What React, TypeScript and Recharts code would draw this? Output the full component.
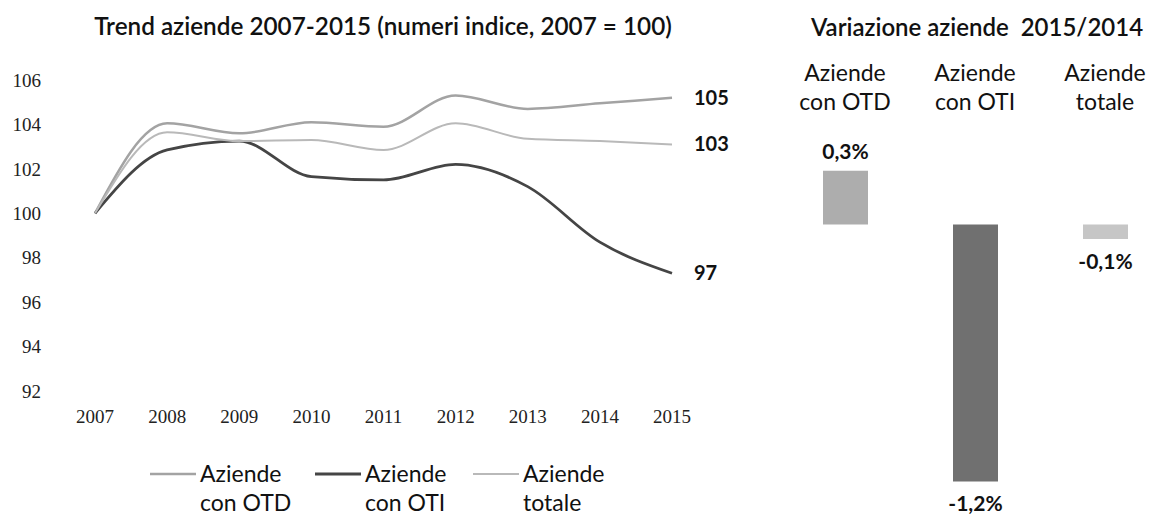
import { LineChart, Line, XAxis, YAxis, BarChart, Bar, Cell, LabelList, ReferenceLine } from 'recharts'

const years = ['2007', '2008', '2009', '2010', '2011', '2012', '2013', '2014', '2015']
const otd = [100, 104.05, 103.6, 104.1, 103.9, 105.3, 104.7, 104.95, 105.2]
const oti = [100, 102.85, 103.25, 101.65, 101.5, 102.2, 101.2, 98.7, 97.3]
const totale = [100, 103.65, 103.25, 103.3, 102.85, 104.05, 103.35, 103.25, 103.1]
const yTicks = [92, 94, 96, 98, 100, 102, 104, 106]

const varCategories = ['Aziende con OTD', 'Aziende con OTI', 'Aziende totale']
const varValues = [0.26, -1.24, -0.07]
const varLabels = ['0,3%', '-1,2%', '-0,1%']
const headerTop = ['Aziende', 'Aziende', 'Aziende']
const headerBottom = ['con OTD', 'con OTI', 'totale']

const trendData = years.map((y, i) => ({ year: y, otd: otd[i], oti: oti[i], totale: totale[i] }))
const varData = varCategories.map((c, i) => ({ name: c, value: varValues[i] }))

const sans = 'Lato, "Open Sans", sans-serif'
const serif = '"Liberation Serif", serif'

const series = [
  { key: 'otd', color: '#a3a3a3', width: 2.5, label: ['Aziende', 'con OTD'] },
  { key: 'oti', color: '#454545', width: 2.8, label: ['Aziende', 'con OTI'] },
  { key: 'totale', color: '#b9b9b9', width: 2, label: ['Aziende', 'totale'] },
]
const barColors = ['#adadad', '#707070', '#c6c6c6']

const EndLabel = (props: any) => {
  const { x, y, index, value } = props
  if (index !== years.length - 1) return <g />
  return (
    <text x={x + 22} y={y} dy={7} fontFamily={sans} fontWeight={700} fontSize={20} fill="#111">
      {Math.round(value)}
    </text>
  )
}

const BarLabel = (props: any) => {
  const { x, y, width, height, index } = props
  const top = Math.min(y, y + height)
  const bottom = Math.max(y, y + height)
  const ty = varValues[index] >= 0 ? top - 20 : bottom + 21
  return (
    <text x={x + width / 2} y={ty} textAnchor="middle" dominantBaseline="central"
      fontFamily={sans} fontWeight={700} fontSize={21} fill="#111">
      {varLabels[index]}
    </text>
  )
}

export default function App() {
  return (
    <div style={{ position: 'absolute', left: 0, top: 0, width: 1151, height: 517, overflow: 'hidden', background: '#fff', fontFamily: sans }}>
      <div style={{ position: 'absolute', left: 0, width: 766, top: 11, textAlign: 'center', fontSize: 24.3, fontWeight: 600, color: '#111' }}>
        Trend aziende 2007-2015 (numeri indice, 2007 = 100)
      </div>

      <div style={{ position: 'absolute', left: 0, top: 0 }}>
        <LineChart width={760} height={440} data={trendData} margin={{ top: 80, right: 88, left: 0, bottom: 9 }}>
          <XAxis
            dataKey="year"
            axisLine={false}
            tickLine={false}
            tickSize={0}
            tickMargin={19}
            height={40}
            interval={0}
            tick={{ fontSize: 19, fill: '#222', fontFamily: serif }}
          />
          <YAxis
            domain={[92, 106]}
            ticks={yTicks}
            axisLine={false}
            tickLine={false}
            tickSize={0}
            tickMargin={54}
            width={95}
            tick={{ fontSize: 19, fill: '#222', fontFamily: serif }}
          />
          {series.map((s) => (
            <Line
              key={s.key}
              type="monotone"
              dataKey={s.key}
              stroke={s.color}
              strokeWidth={s.width}
              dot={false}
              activeDot={false}
              isAnimationActive={false}
              label={EndLabel}
            />
          ))}
        </LineChart>
      </div>

      {series.map((s, i) => {
        const lx = [150, 315, 473][i]
        return (
          <div key={s.key}>
            <svg style={{ position: 'absolute', left: lx, top: 470 }} width={46} height={8}>
              <line x1={0} y1={4} x2={46} y2={4} stroke={s.color} strokeWidth={s.width} />
            </svg>
            <div style={{ position: 'absolute', left: lx + 50, top: 459, fontSize: 23, lineHeight: '29px', color: '#111' }}>
              {s.label[0]}
              <br />
              {s.label[1]}
            </div>
          </div>
        )
      })}

      <div style={{ position: 'absolute', left: 790, width: 374, top: 12, textAlign: 'center', fontSize: 24, fontWeight: 600, color: '#111', whiteSpace: 'pre' }}>
        {'Variazione aziende  2015/2014'}
      </div>
      {headerTop.map((h, i) => (
        <div key={i} style={{ position: 'absolute', left: 780 + i * 130, width: 130, top: 58, textAlign: 'center', fontSize: 23, lineHeight: '29px', color: '#111' }}>
          {h}
          <br />
          {headerBottom[i]}
        </div>
      ))}

      <div style={{ position: 'absolute', left: 780, top: 0 }}>
        <BarChart width={390} height={517} data={varData} margin={{ top: 121, right: 0, left: 0, bottom: 23 }} barSize={45}>
          <XAxis dataKey="name" hide />
          <YAxis domain={[-1.3, 0.5]} hide allowDataOverflow />
          <ReferenceLine y={0} stroke="none" />
          <Bar dataKey="value" isAnimationActive={false}>
            {varData.map((d, i) => (
              <Cell key={d.name} fill={barColors[i]} />
            ))}
            <LabelList dataKey="value" content={BarLabel} />
          </Bar>
        </BarChart>
      </div>
    </div>
  )
}
